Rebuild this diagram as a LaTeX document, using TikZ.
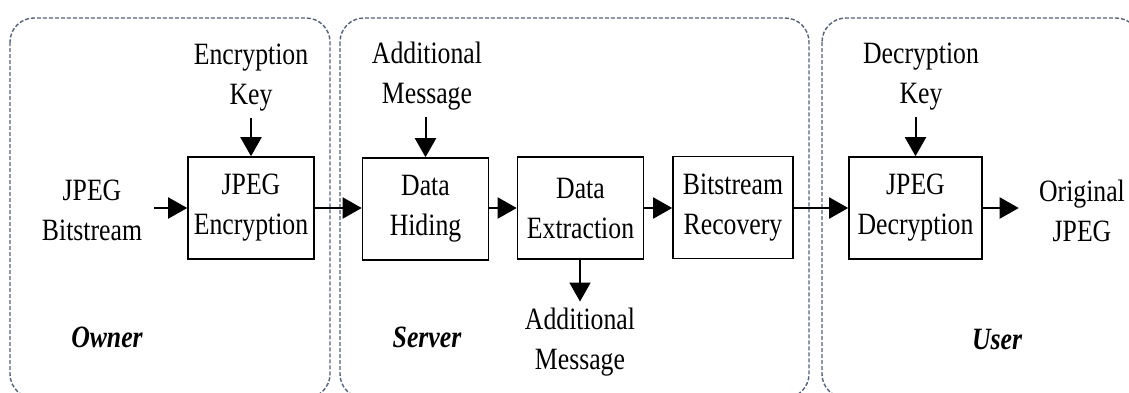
\documentclass[tikz,border=0pt]{standalone}
\usepackage{fontspec}
\setmainfont{Liberation Serif}[FakeStretch=0.83]
\usetikzlibrary{arrows.meta}
\definecolor{grpblue}{RGB}{84,98,124}

\begin{document}
\begin{tikzpicture}[x=0.5pt, y=-0.5pt,
    font=\fontsize{15.5pt}{20pt}\selectfont,
    blk/.style={draw, line width=0.8pt, align=center, inner sep=0pt,
        minimum width=63pt, minimum height=51pt},
    lbl/.style={align=center, inner sep=3pt},
    who/.style={font=\fontsize{15.5pt}{20pt}\selectfont\bfseries\itshape},
    grp/.style={draw=grpblue, line width=0.7pt, dash pattern=on 2pt off 1pt,
        rounded corners=12pt},
    arr/.style={line width=1pt, -{Triangle[length=9.5pt, width=10.5pt]}}]
    \useasboundingbox (0,0) rectangle (1129,392);

    % Draw Group Frames
    \draw[grp] (10,18) rectangle (330,398);
    \draw[grp] (340,18) rectangle (809,398);
    \draw[grp] (822,18) rectangle (1140,398);

    % Processing Blocks
    \node[blk] (enc) at (251,208) {JPEG\\Encryption};
    \node[blk] (hid) at (425.5,209) {Data\\Hiding};
    \node[blk] (ext) at (580.5,208) {Data\\Extraction};
    \node[blk, minimum width=60pt] (rec) at (733,207.5) {Bitstream\\Recovery};
    \node[blk, minimum width=66.5pt] (dec) at (915.5,208) {JPEG\\Decryption};

    % Inputs and Outputs
    % -- owner side
    \node[lbl] (bits) at (92,210) {JPEG\\Bitstream};
    \node[lbl] (enckey) at (251,78) {Encryption\\Key};

    % -- server side
    \node[lbl] (addin) at (427,76) {Additional\\Message};
    \node[lbl] (addout) at (580,342) {Additional\\Message};

    % -- user side
    \node[lbl] (deckey) at (921,77) {Decryption\\Key};
    \node[lbl] (orig) at (1082,211) {Original\\JPEG};

    % Group Names
    \node[who] (owner) at (107,337) {Owner};
    \node[who] (server) at (427,337) {Server};
    \node[who] (user) at (997,339) {User};

    % Arrows
    \draw[arr, shorten <=3pt] (bits.east |- enc.west) -- (enc.west);
    \draw[arr] (enc.east) -- (enc.east -| hid.west);
    \draw[arr] (hid.east |- ext.west) -- (ext.west);
    \draw[arr] (ext.east) -- (ext.east -| rec.west);
    \draw[arr] (rec.east |- dec.west) -- (dec.west);
    \draw[arr, shorten >=7pt] (dec.east) -- (dec.east -| orig.west);

    \draw[arr] (enckey.south) -- (enc.north);
    \draw[arr] (addin.south -| hid.north) -- (hid.north);
    \draw[arr] (ext.south) -- (ext.south -| addout.north) -- (addout.north);
    \draw[arr] (deckey.south -| dec.north) -- (dec.north);
\end{tikzpicture}
\end{document}
